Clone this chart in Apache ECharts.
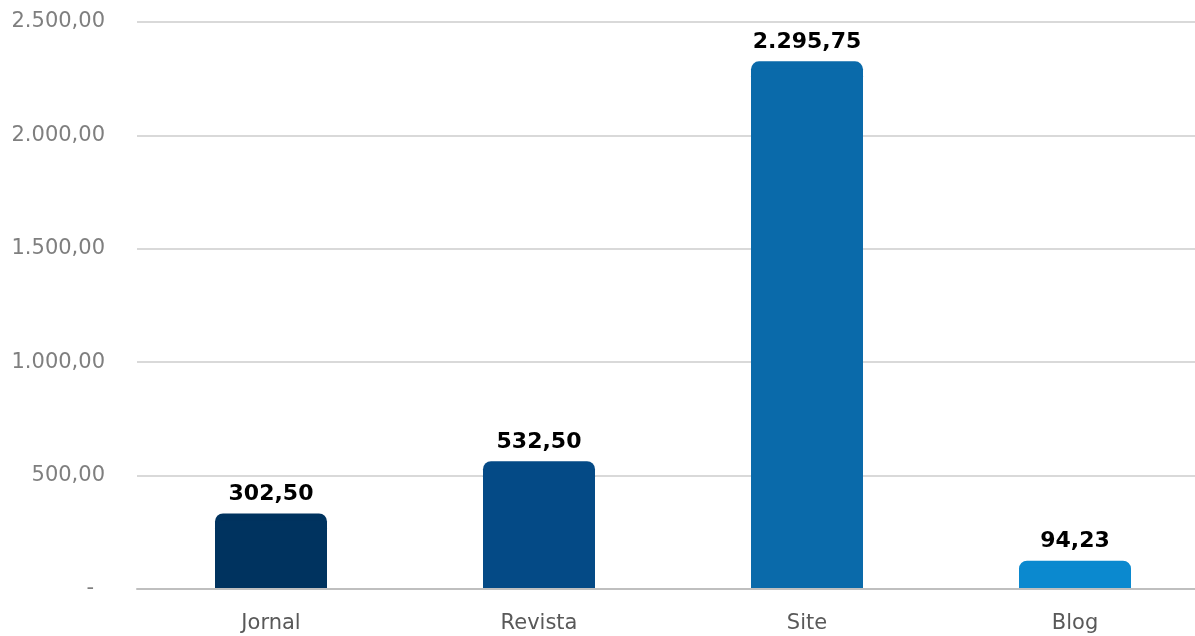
<!DOCTYPE html>
<html>
<head>
<meta charset="utf-8">
<script src="https://cdn.jsdelivr.net/npm/echarts@6/dist/echarts.min.js"></script>
<style>html,body{margin:0;padding:0;background:#fff;overflow:hidden;width:1195px;height:636px}#c{width:1209px;height:636px}</style>
</head>
<body>
<div id="c"></div>
<script>
const categories = ['Jornal', 'Revista', 'Site', 'Blog'];
const values = [302.50, 532.50, 2295.75, 94.23];
const barColors = ['#00335F', '#044A86', '#0A6AAA', '#0B89CF'];
const yTicks = [0, 500, 1000, 1500, 2000, 2500];

function fmtBR(v) {
  const parts = v.toFixed(2).split('.');
  const intPart = parts[0].replace(/\B(?=(\d{3})+(?!\d))/g, '.');
  return intPart + ',' + parts[1];
}

const chart = echarts.init(document.getElementById('c'), null, {renderer: 'canvas'});
chart.setOption({
  animation: false,
  grid: {left: 137, right: 0, top: 22, bottom: 47, containLabel: false},
  xAxis: {
    type: 'category',
    data: categories,
    z: 5,
    axisLine: {lineStyle: {color: '#BFBFBF', width: 2}},
    axisTick: {show: false},
    axisLabel: {color: '#595959', fontFamily: 'DejaVu Sans', fontSize: 21, margin: 24}
  },
  yAxis: {
    type: 'value',
    min: yTicks[0],
    max: yTicks[yTicks.length - 1],
    interval: 500,
    axisLine: {show: false},
    axisTick: {show: false},
    splitLine: {lineStyle: {color: '#D9D9D9', width: 2}},
    axisLabel: {
      color: '#7F7F7F', fontFamily: 'DejaVu Sans', fontSize: 21, margin: 32,
      formatter: function (v) { return v === 0 ? '{z|-}' : fmtBR(v); },
      rich: {z: {color: '#7F7F7F', fontFamily: 'DejaVu Sans', fontSize: 21, padding: [0, 11, 0, 0]}}
    }
  },
  series: [{
    type: 'bar',
    barWidth: 112,
    data: values.map((v, i) => ({
      value: v,
      itemStyle: {
        color: barColors[i], borderRadius: [8, 8, 0, 0],
        shadowColor: barColors[i], shadowBlur: 0, shadowOffsetX: 0, shadowOffsetY: -7
      }
    })),
    label: {
      show: true,
      position: 'top',
      distance: 15,
      color: '#000000',
      fontFamily: 'DejaVu Sans',
      fontWeight: 'bold',
      fontSize: 22,
      formatter: p => fmtBR(p.value)
    }
  }]
});
</script>
</body>
</html>
